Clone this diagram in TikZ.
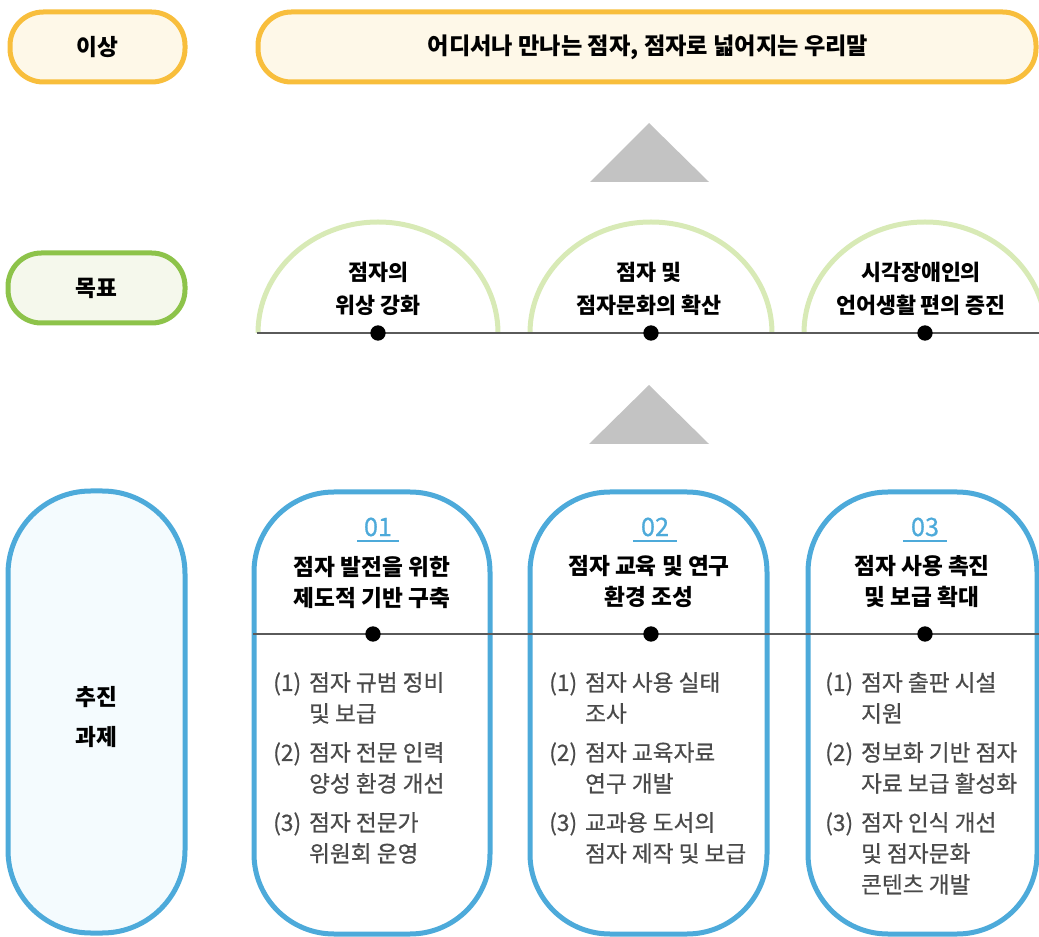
\documentclass[tikz,border=0pt]{standalone}
\usepackage{fontspec}
\setmainfont{Noto Sans CJK KR}
\newfontfamily\bodyfont{Noto Sans CJK KR}[FakeBold=0.6]
\definecolor{pillorange}{HTML}{F8BE3C}
\definecolor{pillcream}{HTML}{FEF8E8}
\definecolor{pillgreen}{HTML}{8DC34A}
\definecolor{pillgreenfill}{HTML}{F5F8EC}
\definecolor{arcgreen}{HTML}{D8EAB6}
\definecolor{boxblue}{HTML}{4DAADA}
\definecolor{pillbluefill}{HTML}{F4FBFE}
\definecolor{trigray}{HTML}{C3C3C3}
\definecolor{linegray}{HTML}{5A5A5A}
\definecolor{bodygray}{HTML}{4A4A4A}
\begin{document}
\begin{tikzpicture}[x=0.75pt,y=-0.75pt,
  pill/.style={draw, line width=3.75pt, inner sep=0pt},
  orangepill/.style={pill, draw=pillorange, fill=pillcream, rounded corners=25pt, minimum height=52.5pt},
  greenpill/.style={pill, draw=pillgreen, fill=pillgreenfill, rounded corners=25pt, minimum height=52.5pt},
  bluepill/.style={pill, draw=boxblue, fill=pillbluefill, rounded corners=62pt},
  taskbox/.style={pill, draw=boxblue, fill=white, rounded corners=60pt, minimum height=331.5pt},
  hdr/.style={font=\fontsize{17}{23.25}\selectfont\bfseries, align=center, inner sep=0pt},
  goaltxt/.style={font=\fontsize{16.3}{24.75}\selectfont\bfseries, align=center, inner sep=0pt},
  bodytxt/.style={font=\bodyfont\fontsize{17}{23.25}\selectfont, text=bodygray, inner sep=0pt, anchor=north west},
  numtxt/.style={font=\bodyfont\fontsize{19}{22}\selectfont, text=boxblue, inner sep=0pt},
  numline/.style={draw=boxblue, line width=1.1pt},
  dotmark/.style={circle, fill=black, inner sep=0pt, minimum size=11.5pt},
  tri/.style={fill=trigray},
  goalarc/.style={draw=arcgreen, line width=3.75pt},
  sepline/.style={draw=linegray, line width=0.8pt}
]
\useasboundingbox (0,0) rectangle (1039,937);
\clip (0,0) rectangle (1039,937);

% Row 1: ideal
\node[orangepill, minimum width=131.25pt] (ideal) at (97.5,47) {};
\node[hdr] (idealtxt) at (97.5,47) {이상};
\node[orangepill, minimum width=583.5pt] (vision) at (647,47) {};
\node[hdr, font=\fontsize{17.4}{23.25}\selectfont\bfseries] (visiontxt) at (648,47) {어디서나 만나는 점자, 점자로 넓어지는 우리말};

% triangles
\fill[tri] (649,123) -- (709,182) -- (590,182) -- cycle;
\fill[tri] (649,385) -- (709,444) -- (589,444) -- cycle;

% Row 2: goals
\node[greenpill, minimum width=132.75pt] (goal) at (96.5,288) {};
\node[hdr] (goaltitle) at (96.5,288) {목표};

\draw[goalarc] (258,333) arc[start angle=180, end angle=0, x radius=90pt, y radius=83.25pt];
\draw[goalarc] (530,333) arc[start angle=180, end angle=0, x radius=90.75pt, y radius=83.25pt];
\draw[goalarc] (804,333) arc[start angle=180, end angle=0, x radius=90.75pt, y radius=83.25pt];

\coordinate (gl) at (257,333);
\coordinate (gr) at (1039,333);
\draw[sepline] (gl) -- (gr);
\node[dotmark] (gd1) at (378,333) {};
\node[dotmark] (gd2) at (651,333) {};
\node[dotmark] (gd3) at (925,333) {};

\node[goaltxt] (g1) at (378,288.5) {점자의\\위상 강화};
\node[goaltxt] (g2) at (649,288.5) {점자 및\\점자문화의 확산};
\node[goaltxt] (g3) at (921,288.5) {시각장애인의\\언어생활 편의 증진};

% Row 3: tasks
\node[bluepill, minimum width=132.75pt, minimum height=331.5pt] (task) at (96.5,712) {};
\node[font=\fontsize{17}{30}\selectfont\bfseries, align=center, inner sep=0pt] (tasktxt) at (96,717) {추진\\과제};

\node[taskbox, minimum width=177pt] (box1) at (372,713) {};
\node[taskbox, minimum width=177.75pt] (box2) at (648.5,713) {};
\node[taskbox, minimum width=171.75pt] (box3) at (922.5,713) {};

\coordinate (tl) at (253,634);
\coordinate (tr) at (1039,634);
\draw[sepline] (tl) -- (tr);
\node[dotmark] (td1) at (373,634) {};
\node[dotmark] (td2) at (651,634) {};
\node[dotmark] (td3) at (925,634) {};

\node[numtxt] (n1) at (378,527) {01};
\node[numtxt] (n2) at (655,527) {02};
\node[numtxt] (n3) at (925,527) {03};
\draw[numline] ([shift={(-21,4.5)}]n1.south) -- ([shift={(21,4.5)}]n1.south);
\draw[numline] ([shift={(-22,4.5)}]n2.south) -- ([shift={(22,4.5)}]n2.south);
\draw[numline] ([shift={(-22,4.5)}]n3.south) -- ([shift={(22,4.5)}]n3.south);

\node[hdr] (h1) at (372,582.5) {점자 발전을 위한\\제도적 기반 구축};
\node[hdr] (h2) at (649,581.5) {점자 교육 및 연구\\환경 조성};
\node[hdr] (h3) at (922,581.5) {점자 사용 촉진\\및 보급 확대};

\node[bodytxt] (b1) at (273,669) {\begin{tabular}{@{}l@{\hspace{0.35em}}l@{}}
(1) & 점자 규범 정비\\ & 및 보급\\[6pt]
(2) & 점자 전문 인력\\ & 양성 환경 개선\\[6pt]
(3) & 점자 전문가\\ & 위원회 운영
\end{tabular}};
\node[bodytxt] (b2) at (549,669) {\begin{tabular}{@{}l@{\hspace{0.35em}}l@{}}
(1) & 점자 사용 실태\\ & 조사\\[6pt]
(2) & 점자 교육자료\\ & 연구 개발\\[6pt]
(3) & 교과용 도서의\\ & 점자 제작 및 보급
\end{tabular}};
\node[bodytxt] (b3) at (825,669) {\begin{tabular}{@{}l@{\hspace{0.35em}}l@{}}
(1) & 점자 출판 시설\\ & 지원\\[6pt]
(2) & 정보화 기반 점자\\ & 자료 보급 활성화\\[6pt]
(3) & 점자 인식 개선\\ & 및 점자문화\\ & 콘텐츠 개발
\end{tabular}};
\end{tikzpicture}
\end{document}
